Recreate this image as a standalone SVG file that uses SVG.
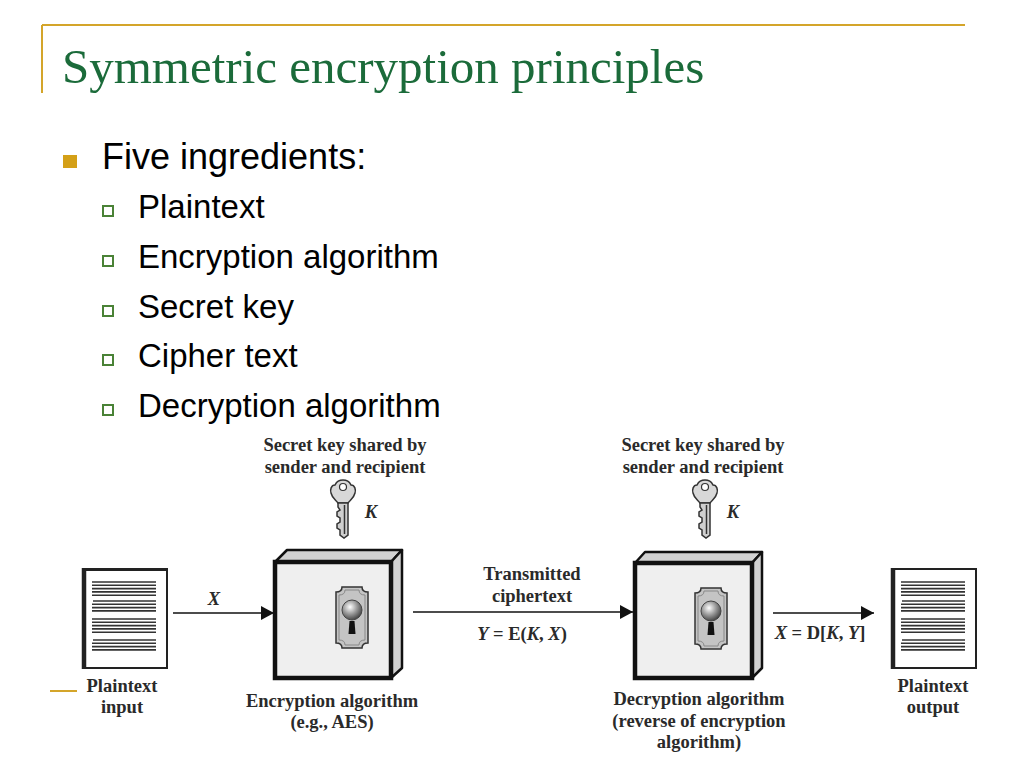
<svg xmlns="http://www.w3.org/2000/svg" width="1024" height="768" viewBox="0 0 1024 768">
<style>
.gold{stroke:#d4a52a;fill:none}
.title{font-family:"Liberation Serif",serif;font-size:49px;fill:#1b6b3a}
.b1{font-family:"Liberation Sans",Arial,sans-serif;font-size:36px;fill:#000}
.b2{font-family:"Liberation Sans",Arial,sans-serif;font-size:33px;fill:#000}
.sq{fill:#fff;stroke:#4a8236;stroke-width:2}
.lbl{font-family:"Liberation Serif",serif;font-weight:bold;font-size:18.5px;fill:#2a2a2a;text-anchor:middle}
.it{font-style:italic}
.side{fill:#d2d2d2;stroke:#111;stroke-width:2.5;stroke-linejoin:round}
.front{fill:#efefef;stroke:#111;stroke-width:4.5}
.conn{stroke:#111;stroke-width:1.6;fill:none}
.doc{fill:#fff;stroke:#222;stroke-width:2}
</style>
<defs>
<marker id="ah" markerUnits="userSpaceOnUse" markerWidth="14" markerHeight="14" refX="13" refY="7" orient="auto">
<path d="M0,0 L13,7 L0,14 Z" fill="#111"/>
</marker>
<radialGradient id="knob" cx="0.4" cy="0.35" r="0.7">
<stop offset="0" stop-color="#ffffff"/>
<stop offset="0.5" stop-color="#9a9a9a"/>
<stop offset="1" stop-color="#3a3a3a"/>
</radialGradient>
<g id="keyhole">
<path d="M-10,-30 L10,-30 Q10,-25 16,-25 L16,26 Q10,26 10,31 L-10,31 Q-10,26 -16,26 L-16,-25 Q-10,-25 -10,-30 Z" fill="#c4c4c4" stroke="#333" stroke-width="1.5"/>
<path d="M-7,-27 L7,-27 Q7,-22 13,-22 L13,23 Q7,23 7,28 L-7,28 Q-7,23 -13,23 L-13,-22 Q-7,-22 -7,-27 Z" fill="none" stroke="#888" stroke-width="1"/>
<circle cx="0" cy="-7" r="10" fill="url(#knob)" stroke="#444" stroke-width="1"/>
<path d="M-2.5,4 L2.5,4 L3.5,17 L-3.5,17 Z" fill="#111"/>
</g>
<g id="key">
<path d="M0,0 C6,0 7,3 8,5 C12,5 13,10 12,13 C11,18 7,20 5,23 L-5,23 C-7,20 -11,18 -12,13 C-13,10 -12,5 -8,5 C-7,3 -6,0 0,0 Z" fill="#d8d8d8" stroke="#333" stroke-width="1.5"/>
<circle cx="0" cy="7" r="3.5" fill="#fff" stroke="#333" stroke-width="1.2"/>
<path d="M-5,23 L5,23 L5,55 L1,58 L-3,55 L-3,50 L-6,48 L-6,44 L-3,42 L-3,38 L-6,36 L-6,32 L-3,30 L-5,27 Z" fill="#cfcfcf" stroke="#333" stroke-width="1.5"/>
<line x1="1.5" y1="25" x2="1.5" y2="54" stroke="#333" stroke-width="1.5"/>
</g>
<g id="lines">
<path d="M0,0h64M0,3.3h64M0,6.6h64M0,9.9h64M0,13.2h64 M1,19h63M0,22.3h64M0,25.6h64M0,28.9h64 M0,37h64M0,40.3h64M0,43.6h64M0,46.9h64M0,50.2h64 M1,58h63M0,61.3h64M0,64.6h64M0,67.9h64" stroke="#333" stroke-width="1.6" fill="none"/>
</g>
</defs>
<rect width="1024" height="768" fill="#fff"/>

<g id="title-frame">
<line class="gold" x1="42" y1="25" x2="965" y2="25" stroke-width="2"/>
<line class="gold" x1="42" y1="25" x2="42" y2="93" stroke-width="2"/>
<line class="gold" x1="50" y1="691" x2="77" y2="691" stroke-width="2"/>
</g>
<text id="title" class="title" x="62" y="83">Symmetric encryption principles</text>

<g id="bullets">
<rect x="63" y="155" width="14" height="13" fill="#d4a017"/>
<text class="b1" x="102" y="169">Five ingredients:</text>
<rect class="sq" x="103" y="206" width="10" height="10"/>
<text class="b2" x="138" y="218">Plaintext</text>
<rect class="sq" x="103" y="256" width="10" height="10"/>
<text class="b2" x="138" y="268">Encryption algorithm</text>
<rect class="sq" x="103" y="306" width="10" height="10"/>
<text class="b2" x="138" y="318">Secret key</text>
<rect class="sq" x="103" y="355" width="10" height="10"/>
<text class="b2" x="138" y="367">Cipher text</text>
<rect class="sq" x="103" y="405" width="10" height="10"/>
<text class="b2" x="138" y="417">Decryption algorithm</text>
</g>

<g id="connectors">
<line class="conn" x1="173" y1="613" x2="274" y2="613" marker-end="url(#ah)"/>
<line class="conn" x1="413" y1="612" x2="633" y2="612" marker-end="url(#ah)"/>
<line class="conn" x1="773" y1="613" x2="874" y2="613" marker-end="url(#ah)"/>
<text class="lbl it" x="214" y="605">X</text>
<text class="lbl" x="532" y="580">Transmitted</text>
<text class="lbl" x="532" y="602">ciphertext</text>
<text class="lbl" x="522" y="640"><tspan class="it">Y</tspan> = E(<tspan class="it">K</tspan>, <tspan class="it">X</tspan>)</text>
<text class="lbl" x="820" y="639"><tspan class="it">X</tspan> = D[<tspan class="it">K</tspan>, <tspan class="it">Y</tspan>]</text>
</g>

<g id="plaintext-input">
<rect class="doc" x="83" y="569" width="84" height="99"/>
<line x1="84" y1="568" x2="84" y2="669" stroke="#222" stroke-width="4.5"/>
<line x1="82" y1="569.5" x2="167" y2="569.5" stroke="#222" stroke-width="3"/>
<use href="#lines" x="92" y="582"/>
<text class="lbl" x="122" y="692">Plaintext</text>
<text class="lbl" x="122" y="713">input</text>
</g>

<g id="key-enc">
<text class="lbl" x="345" y="451">Secret key shared by</text>
<text class="lbl" x="345" y="473">sender and recipient</text>
<use href="#key" x="343" y="480"/>
<text class="lbl it" x="371" y="518">K</text>
</g>

<g id="encryption">
<polygon class="side" points="275,562 287,550 402,550 391,562"/>
<polygon class="side" points="391,562 402,550 402,668 391,678"/>
<rect class="front" x="275" y="562" width="116" height="116"/>
<use href="#keyhole" x="352" y="617"/>
<text class="lbl" x="332" y="707">Encryption algorithm</text>
<text class="lbl" x="332" y="728">(e.g., AES)</text>
</g>

<g id="key-dec">
<text class="lbl" x="703" y="451">Secret key shared by</text>
<text class="lbl" x="703" y="473">sender and recipient</text>
<use href="#key" x="705" y="480"/>
<text class="lbl it" x="733" y="518">K</text>
</g>

<g id="decryption">
<polygon class="side" points="635,563 645,552 762,552 752,563"/>
<polygon class="side" points="752,563 762,552 762,668 752,678"/>
<rect class="front" x="635" y="563" width="117" height="115"/>
<use href="#keyhole" x="711" y="618"/>
<text class="lbl" x="699" y="705">Decryption algorithm</text>
<text class="lbl" x="699" y="727">(reverse of encryption</text>
<text class="lbl" x="699" y="748">algorithm)</text>
</g>

<g id="plaintext-output">
<rect class="doc" x="892" y="569" width="84" height="99"/>
<line x1="893" y1="568" x2="893" y2="669" stroke="#222" stroke-width="4.5"/>
<use href="#lines" x="901" y="582"/>
<text class="lbl" x="933" y="692">Plaintext</text>
<text class="lbl" x="933" y="713">output</text>
</g>
</svg>
